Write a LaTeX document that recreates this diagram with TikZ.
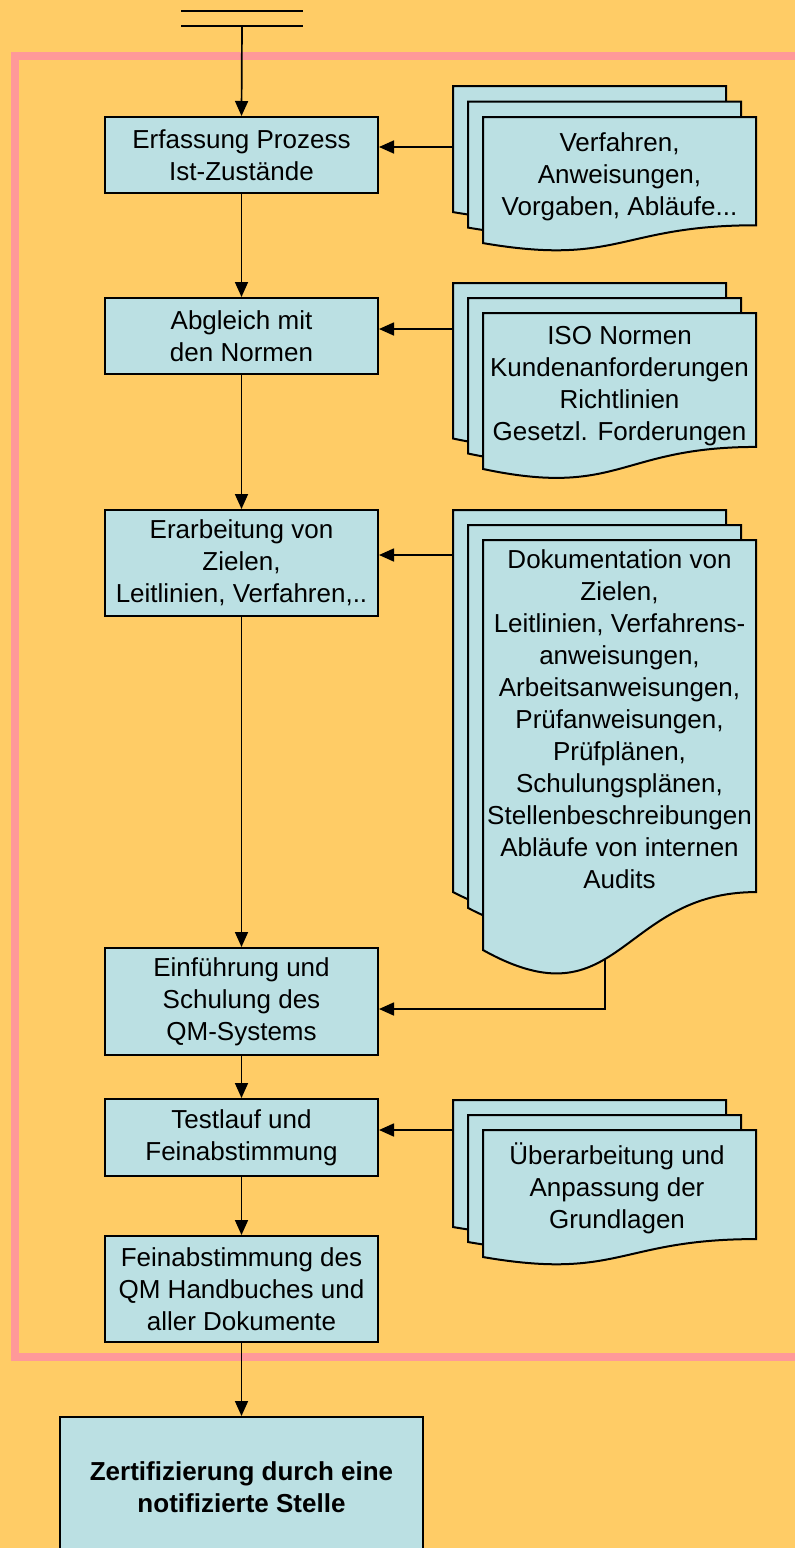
\documentclass[tikz,border=0pt]{standalone}
\usepackage{fontspec}
\setmainfont{Liberation Sans}
\usetikzlibrary{arrows.meta,calc}
\definecolor{bgorange}{RGB}{255,204,102}
\definecolor{framepink}{RGB}{255,153,153}
\definecolor{boxblue}{RGB}{187,224,227}
\tikzset{
  box/.style={draw=black, line width=2pt, fill=boxblue, minimum width=273pt, inner sep=0pt, align=center, font=\fontsize{26}{32}\selectfont},
  doctext/.style={align=center, inner sep=0pt, font=\fontsize{26}{32}\selectfont},
  docstyle/.style={draw=black, fill=boxblue, line width=2pt, line join=miter},
  conn/.style={draw=black, line width=1.7pt},
  arr/.style={conn, -{Triangle[length=15pt,width=13pt]}},
}
\newcommand\docpage[4]{%
  \path[docstyle] (#1,#2) -- ({#1+#4},#2) -- ({#1+#4},{#2+0.802*#3})
    .. controls ({#1+0.5*#4},{#2+0.802*#3}) and ({#1+0.5*#4},{#2+1.1075*#3}) .. (#1,{#2+0.934*#3}) -- cycle;}
\begin{document}
\begin{tikzpicture}[x=1pt,y=-1pt]
\clip (0,0) rectangle (795,1548);
\fill[bgorange] (0,0) rectangle (795,1548);
% pink frame (open to the right)
\draw[framepink, line width=8.5pt] (830,56) -- (15,56) -- (15,1357) -- (830,1357);

% top double line
\coordinate (tl1) at (181,11);
\coordinate (tr1) at (303,11);
\coordinate (tl2) at (181,26);
\coordinate (tr2) at (303,26);
\coordinate (top) at (242,26);
\draw[conn] (tl1) -- (tr1);
\draw[conn] (tl2) -- (tr2);

% main column boxes
\node[box, minimum height=76pt] (b1) at (241.5,155) {Erfassung Prozess\\Ist-Zustände};
\node[box, minimum height=76pt] (b2) at (241.5,336) {Abgleich mit\\den Normen};
\node[box, minimum height=106pt] (b3) at (241.5,563) {Erarbeitung von\\Zielen,\\Leitlinien, Verfahren,..};
\node[box, minimum height=107pt] (b4) at (241.5,1001.5) {Einführung und\\Schulung des\\QM-Systems};
\node[box, minimum height=77pt] (b5) at (241.5,1137.5) {Testlauf und\\Feinabstimmung};
\node[box, minimum height=106pt] (b6) at (241.5,1289) {Feinabstimmung des\\QM Handbuches und\\aller Dokumente};
\node[box, minimum width=363pt, minimum height=140pt, font=\fontsize{26}{32}\selectfont\bfseries] (b7) at (241.5,1487) {Zertifizierung durch eine\\notifizierte Stelle};

% vertical flow
\draw[arr] (top) -- (b1.north);
\draw[arr] (b1) -- (b2);
\draw[arr] (b2) -- (b3);
\draw[arr] (b3) -- (b4);
\draw[arr] (b4) -- (b5);
\draw[arr] (b5) -- (b6);
\draw[arr] (b6) -- (b7);

% connectors from the document stacks
\coordinate (d1in) at (453,147);
\coordinate (d2in) at (453,329);
\coordinate (d3in) at (453,555);
\coordinate (d4in) at (453,1130);
\coordinate (d3out) at (605,945);
\coordinate (b4in) at (378,1009);
\draw[arr] (d1in) -- (d1in -| b1.east);
\draw[arr] (d2in) -- (d2in -| b2.east);
\draw[arr] (d3in) -- (d3in -| b3.east);
\draw[arr] (d4in) -- (d4in -| b5.east);
\draw[arr] (d3out) |- (b4in -| b4.east);

% document stack 1
\docpage{453}{86}{135}{273}
\docpage{468}{101.5}{135}{273}
\docpage{483}{117}{135}{273}
\node[doctext] (t1) at (619.5,177) {Verfahren,\\Anweisungen,\\Vorgaben, Abläufe...};

% document stack 2
\docpage{453}{283}{166.5}{273}
\docpage{468}{298}{166.5}{273}
\docpage{483}{313}{167}{273}
\node[doctext] (t2) at (619.5,386.5) {ISO Normen\\Kundenanforderungen\\Richtlinien\\Gesetzl. Forderungen};

% document stack 3
\docpage{453}{510}{409}{273}
\docpage{468}{525}{410}{273}
\docpage{483}{540}{439}{273}
\node[doctext] (t3) at (619.5,719) {Dokumentation von\\Zielen,\\Leitlinien, Verfahrens-\\anweisungen,\\Arbeitsanweisungen,\\Prüfanweisungen,\\Prüfplänen,\\Schulungsplänen,\\Stellenbeschreibungen\\Abläufe von internen\\Audits};

% document stack 4
\docpage{453}{1100}{136}{273}
\docpage{468}{1115}{136}{273}
\docpage{483}{1130}{136}{273}
\node[doctext] (t4) at (617,1188) {Überarbeitung und\\Anpassung der\\Grundlagen};
\end{tikzpicture}
\end{document}
